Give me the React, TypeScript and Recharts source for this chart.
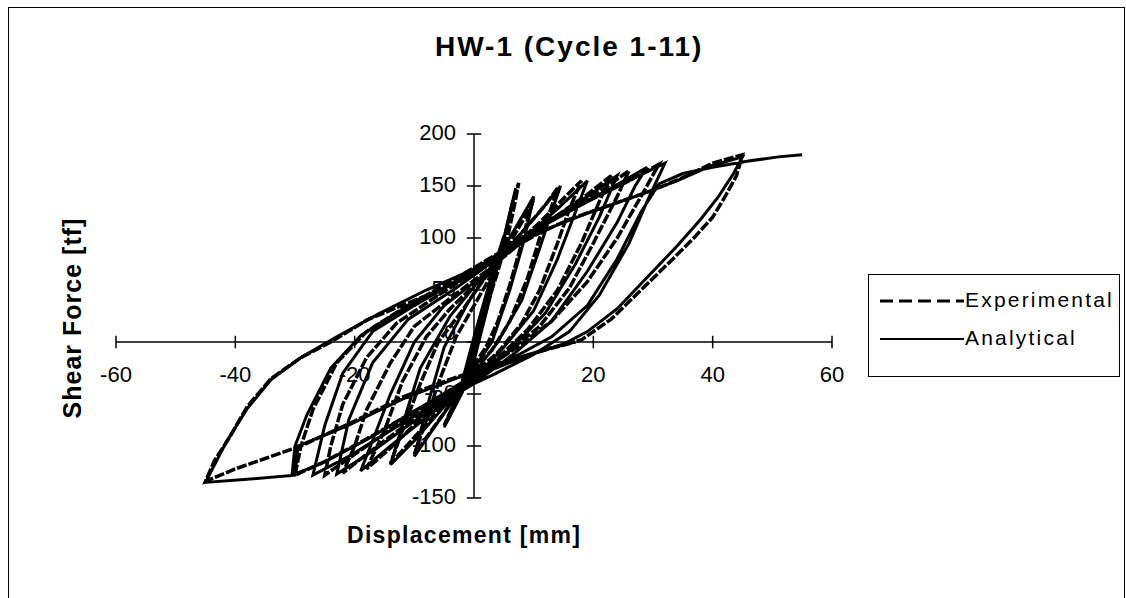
import React from 'react';
import { LineChart, Line, XAxis, YAxis, ReferenceLine, ReferenceDot } from 'recharts';

const FONT = '"Liberation Sans", Arial, sans-serif';

const title = 'HW-1 (Cycle 1-11)';
const xTitle = 'Displacement [mm]';
const yTitle = 'Shear Force [tf]';

const xTicks = [-60, -40, -20, 20, 40, 60];
const yTicks = [-150, -100, -50, 0, 50, 100, 150, 200];

// experimental record (displacement mm, shear tf)
const expSmall: [number, number][] = [
  [0, 0], [1, 22], [2, 42], [3, 60], [2.2, 42], [1, 18], [0, -6], [-1, -22], [-2, -40], [-1.2, -28], [0, -10],
  [1.5, 28], [3, 58], [4, 80], [5, 100], [4.2, 80], [2.5, 48], [1, 18], [0, -8], [-1.5, -35], [-3, -58], [-2, -46], [-0.5, -22],
  [1, 8], [2.5, 40], [4, 75], [5.5, 110], [6.5, 135], [7.5, 153], [6.8, 132], [5.6, 100], [4, 68], [2, 32], [0.5, 6],
  [-1, -24], [-3, -55], [-5, -80], [-4, -70], [-2, -48], [0, -22],
];

const expMid: [number, number][] = [
  [2, -5], [4, 20], [6, 55], [8, 95], [9, 118], [10, 138], [8.5, 120], [6, 95], [3, 65], [0, 35], [-3, 5], [-6, -40],
  [-8, -75], [-10, -108], [-8, -92], [-5, -68], [-2, -42], [0, -25],
  [3, -8], [6, 20], [9, 62], [11, 100], [13, 130], [14, 148], [12, 132], [9, 112], [5, 85], [1, 55], [-2, 30], [-6, 0],
  [-9, -40], [-12, -85], [-14, -117], [-11, -98], [-7, -72], [-3, -47], [0, -30],
  [4, -10], [8, 18], [11, 50], [14, 95], [16, 128], [18, 155], [15, 138], [11, 115], [6, 88], [1, 60], [-4, 32], [-8, 5],
  [-12, -38], [-15, -85], [-18, -122], [-14, -102], [-9, -74], [-4, -48], [0, -32],
  [5, -10], [9, 12], [14, 50], [18, 95], [21, 135], [23, 160], [19, 142], [14, 122], [8, 96], [2, 68], [-4, 42], [-10, 15],
  [-14, -20], [-18, -65], [-20, -100], [-22, -126], [-18, -108], [-12, -82], [-5, -52], [0, -33],
];

const expLarge: [number, number][] = [
  [6, -8], [11, 15], [16, 52], [20, 95], [24, 140], [26, 165], [22, 148], [16, 128], [9, 102], [2, 74], [-6, 45], [-13, 18],
  [-18, -15], [-22, -60], [-24, -100], [-25, -128], [-21, -112], [-14, -84], [-6, -55], [0, -33],
  [7, -6], [13, 20], [19, 58], [24, 100], [28, 140], [31, 171], [26, 155], [20, 138], [12, 115], [4, 85], [-4, 58], [-12, 32],
  [-18, 10], [-23, -20], [-27, -65], [-29, -100], [-30, -128], [-25, -115], [-17, -90], [-8, -60], [0, -32],
  [6, -18], [12, -7], [18, 2], [23, 22], [28, 50], [33, 78], [37, 101], [40, 120], [42, 139], [44, 160], [45, 180],
  [40, 172], [35, 158], [30, 146], [22, 130], [16, 118], [11, 105], [5, 85], [0, 65], [-7, 47], [-13, 33], [-18, 21],
  [-24, 0], [-29, -15], [-34, -35], [-38, -62], [-41, -92], [-43.5, -114], [-45, -134],
  [-40, -122], [-35, -112], [-29, -100], [-20, -76], [-12, -53], [-5, -38], [1, -26], [8, -14], [13, -6], [17, 0],
];

// analytical model response
const anaSmall: [number, number][] = [
  [0, 0], [2, 40], [3, 62], [1.5, 30], [0, 0], [-2, -42], [-1, -25], [0, -8], [3, 55], [5, 102], [3, 65], [0, 5],
  [-3, -60], [-1.5, -40], [0, -18], [3, 50], [5.5, 112], [7, 148], [6, 120], [4, 78], [1, 15], [-2, -40], [-5, -82],
  [-3, -60], [0, -25],
  [3, 0], [6, 50], [8.5, 100], [10, 140], [7, 110], [3, 72], [-1, 38], [-5, -5], [-8, -65], [-10, -110], [-7, -85],
  [-3, -52], [0, -30],
];

const anaMid: [number, number][] = [
  [4, 0], [8, 40], [11, 90], [13, 125], [14.5, 150], [11, 125], [6, 92], [1, 60], [-4, 25], [-9, -25], [-12, -80],
  [-14, -118], [-10, -95], [-5, -62], [0, -35],
  [5, -5], [10, 30], [14, 80], [17, 125], [19, 155], [14, 128], [8, 98], [2, 66], [-5, 35], [-10, 0], [-14, -50],
  [-17, -95], [-19, -124], [-14, -100], [-7, -68], [0, -38],
  [6, -8], [12, 28], [17, 75], [21, 120], [24, 160], [19, 140], [12, 115], [5, 85], [-3, 52], [-11, 22], [-17, -20],
  [-21, -75], [-23, -127], [-17, -105], [-9, -72], [0, -40],
  [7, -10], [13, 20], [19, 68], [24, 115], [27, 150], [29, 168], [23, 148], [15, 124], [7, 96], [-2, 62], [-10, 35],
  [-17, 10], [-22, -30], [-25, -80], [-27, -128], [-21, -110], [-12, -78], [-3, -48], [3, -32],
];

const anaLarge: [number, number][] = [
  [10, -12], [16, 10], [21, 45], [26, 95], [29, 135], [32, 172], [27, 158], [20, 138], [11, 110], [3, 78], [-5, 52],
  [-13, 28], [-19, 6], [-24, -25], [-28, -70], [-30, -100], [-30.5, -128], [-26, -118], [-18, -94], [-9, -63], [0, -34],
  [8, -15], [15, -2], [19, 10], [24, 32], [29, 62], [34, 92], [38, 118], [41, 140], [43.5, 162], [45, 178],
  [40, 170], [34, 155], [28, 142], [20, 126], [12, 108], [5, 88], [0, 70], [-8, 50], [-16, 27], [-23, 5], [-29, -15],
  [-34, -36], [-38, -64], [-41.5, -96], [-45, -135],
  [-38, -132], [-30, -128], [-29.5, -100], [-21, -80], [-12, -55], [-3, -35], [5, -20], [13, 5], [19, 35], [24, 80],
  [28, 125], [31, 152], [35, 162], [40, 168], [46, 174], [51, 178], [55, 180],
];

const toPoints = (rows: [number, number][]) => rows.map(([x, y]) => ({ x, y }));
const experimental = toPoints([...expSmall, ...expMid, ...expLarge]);
const analytical = toPoints([...anaSmall, ...anaMid, ...anaLarge]);

const tickStyle = { fill: '#000', fontSize: 22, fontFamily: FONT };

function LegendBox() {
  return (
    <div style={{ position: 'absolute', left: 859, top: 266, width: 252, height: 103, border: '1px solid #000', boxSizing: 'border-box', background: '#fff', fontSize: 21, letterSpacing: 2.2 }}>
      <div style={{ position: 'absolute', left: 11, top: 13, display: 'flex', alignItems: 'center' }}>
        <svg width={84} height={6}><line x1={0} y1={4} x2={84} y2={4} stroke="#000" strokeWidth={3} strokeDasharray="13 6" /></svg>
        <span style={{ marginLeft: 1 }}>Experimental</span>
      </div>
      <div style={{ position: 'absolute', left: 11, top: 51, display: 'flex', alignItems: 'center' }}>
        <svg width={84} height={6}><line x1={0} y1={4} x2={84} y2={4} stroke="#000" strokeWidth={2} /></svg>
        <span style={{ marginLeft: 1 }}>Analytical</span>
      </div>
    </div>
  );
}

export default function App() {
  return (
    <div style={{ position: 'absolute', left: 8, top: 7, width: 1115, height: 600, border: '1px solid #000', fontFamily: FONT }}>
      <LineChart width={1112} height={588} margin={{ top: 126, right: 289, bottom: 98, left: 107 }}>
        <XAxis type="number" dataKey="x" domain={[-60, 60]} hide allowDataOverflow />
        <YAxis type="number" dataKey="y" domain={[-150, 200]} hide allowDataOverflow />
        <ReferenceLine y={0} stroke="#000" strokeWidth={1.5} />
        <ReferenceLine x={0} stroke="#000" strokeWidth={1.5} />
        {xTicks.map((t) => (
          <ReferenceLine key={'xt' + t} segment={[{ x: t, y: -6 }, { x: t, y: 6 }]} stroke="#000" strokeWidth={1.5} />
        ))}
        {yTicks.map((t) => (
          <ReferenceLine key={'yt' + t} segment={[{ x: -1.2, y: t }, { x: 1.2, y: t }]} stroke="#000" strokeWidth={1.5} />
        ))}
        {xTicks.map((t) => (
          <ReferenceDot key={'xl' + t} x={t} y={0} r={0} fill="none" stroke="none"
            label={{ value: String(t), position: 'bottom', offset: 24, ...tickStyle }} />
        ))}
        {yTicks.map((t) => (
          <ReferenceDot key={'yl' + t} x={0} y={t} r={0} fill="none" stroke="none"
            label={{ value: String(t), position: 'left', offset: 18, dy: t === 0 ? -10 : -2, ...tickStyle }} />
        ))}
        <Line data={experimental} dataKey="y" name="Experimental" type="linear" stroke="#000" strokeWidth={3.5}
          strokeDasharray="10 2" dot={false} isAnimationActive={false} />
        <Line data={analytical} dataKey="y" name="Analytical" type="linear" stroke="#000" strokeWidth={3}
          dot={false} isAnimationActive={false} />
      </LineChart>
      <LegendBox />
      <div style={{ position: 'absolute', left: 426, top: 25, fontSize: 28, lineHeight: '28px', fontWeight: 'bold', letterSpacing: 2, whiteSpace: 'nowrap' }}>
        {title}
      </div>
      <div style={{ position: 'absolute', left: 338, top: 516, fontSize: 23, lineHeight: '23px', fontWeight: 'bold', letterSpacing: 1.3, whiteSpace: 'nowrap' }}>
        {xTitle}
      </div>
      <div style={{ position: 'absolute', left: 63, top: 310, transform: 'translate(-50%, -50%) rotate(-90deg)', fontSize: 25, lineHeight: '25px', fontWeight: 'bold', letterSpacing: 1, whiteSpace: 'nowrap' }}>
        {yTitle}
      </div>
    </div>
  );
}
